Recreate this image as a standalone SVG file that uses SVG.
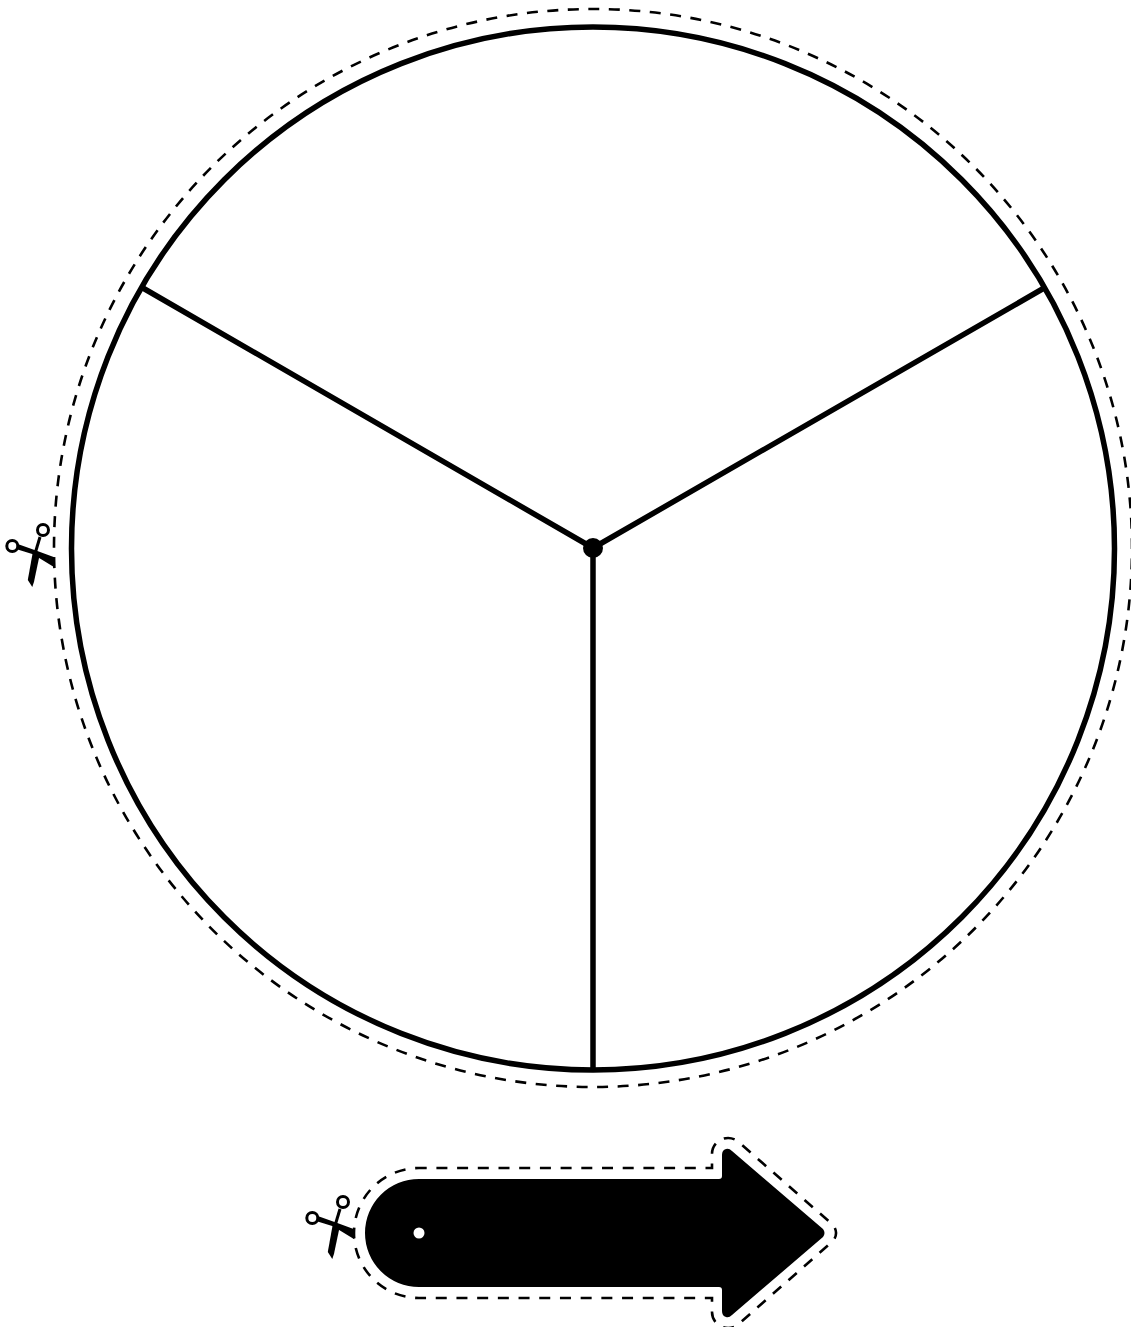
<svg xmlns="http://www.w3.org/2000/svg" width="1131" height="1327" viewBox="0 0 1131 1327">
<style>
.solid{fill:none;stroke:#000;stroke-width:5.500}
.cut{fill:none;stroke:#000;stroke-width:2.600}
.ring{fill:#fff;stroke:#000;stroke-width:3}
.handle{fill:none;stroke:#000;stroke-width:3}
</style>
<defs>
<g id="scissors">
<path class="handle" d="M40 537L35.500 552"/>
<path d="M33 551L27.800 580L32.300 587L34 581.700L40 553.300Z" fill="#000"/>
<path d="M17 543.800L38 551.200L54.300 557.200V567.300L33 554.300L16 549Z" fill="#000"/>
<circle class="ring" cx="43" cy="530" r="5.500"/>
<circle class="ring" cx="12.300" cy="546" r="5.500"/>
</g>
</defs>
<rect width="1131" height="1327" fill="#fff"/>
<g id="wheel">
<circle class="cut" cx="593" cy="548" r="539" stroke-dasharray="11 9.525" stroke-dashoffset="-10.450"/>
<circle class="solid" cx="593" cy="548.500" r="521.500"/>
</g>
<g id="spokes">
<path class="solid" d="M593 548V1070M593 548L142 287.500M593 548L1045 287.500"/>
</g>
<g id="hub"><circle cx="593" cy="548" r="10" fill="#000"/></g>
<g id="wheel-scissors"><use href="#scissors"/></g>
<g id="pointer">
<path class="cut" stroke-dasharray="11 9.700" d="M415.700 1168H712V1154A16 16 0 0 1 738.400 1141.800L831.800 1223.900A12 12 0 0 1 831.800 1242.100L738.400 1324.200A16 16 0 0 1 712 1312V1298H419A65 65 0 0 1 419 1168Z"/>
<path d="M419 1179H719Q722 1179 722 1176V1155Q722 1150 726 1149Q729 1148 732 1151L823 1229Q826 1233 823 1237L732 1315Q729 1318 726 1317Q722 1316 722 1311V1290Q722 1287 719 1287H419A54 54 0 0 1 419 1179Z" fill="#000"/>
<circle cx="419" cy="1233" r="5.500" fill="#fff"/>
</g>
<g id="pointer-scissors"><use href="#scissors" x="300" y="672"/></g>
</svg>
